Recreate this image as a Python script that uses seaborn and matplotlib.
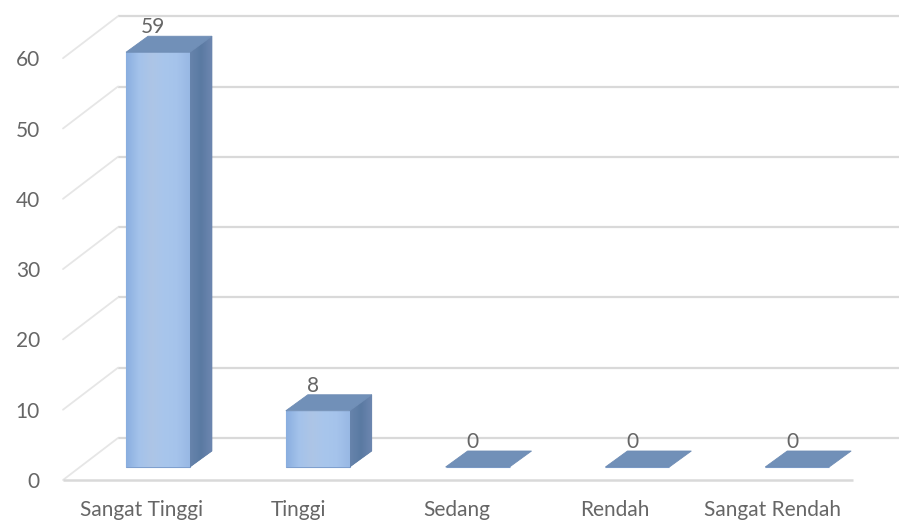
import numpy as np
import pandas as pd
import matplotlib
matplotlib.use("Agg")
import matplotlib.pyplot as plt
import seaborn as sns
from matplotlib.patches import Polygon
from matplotlib.colors import LinearSegmentedColormap

# Data
categories = ["Sangat Tinggi", "Tinggi", "Sedang", "Rendah", "Sangat Rendah"]
counts = [59, 8, 0, 0, 0]
y_ticks = [0, 10, 20, 30, 40, 50, 60]

sns.set_theme(style="white")
plt.rcParams["font.family"] = ["Lato", "DejaVu Sans"]

W, H = 899, 521
fig = plt.figure(figsize=(W / 100, H / 100), dpi=100)
ax = fig.add_axes([0, 0, 1, 1])

# scale: pixels per category step and per value unit
PX_X, PX_Y = 159.8, 7.03
X0_PX, BASE_PX = 158, 467  # first category centre, baseline (from top)


def dx(px):
    return px / PX_X


def dy(px):
    return px / PX_Y


# depth offsets (bar plane -> back wall, bar plane -> front edge, bar thickness)
BACK = (dx(38), dy(29))
FRONT = (dx(-17), dy(-13))
DEPTH = (dx(22), dy(16))
LEFT = dx(80 - X0_PX)
RIGHT = dx(870 - X0_PX)
XMAX = dx(W - X0_PX)

grid_c = "#d9d9d9"
text_c = "#666666"
FS = 15

# walls: back gridlines and left-wall diagonals
for v in y_ticks:
    ax.plot([LEFT + BACK[0], XMAX + 0.5], [v + BACK[1]] * 2, color=grid_c,
            lw=1.6, zorder=1, solid_capstyle="butt")
    ax.plot([LEFT + FRONT[0], LEFT + BACK[0]], [v + FRONT[1], v + BACK[1]],
            color="#e6e6e6", lw=1.3, zorder=1)
# front floor edge
ax.plot([LEFT + FRONT[0], RIGHT + FRONT[0]], [FRONT[1]] * 2, color=grid_c,
        lw=1.8, zorder=1, solid_capstyle="butt")

# front faces of the bars
df = pd.DataFrame({"kategori": categories, "jumlah": counts})
sns.barplot(data=df, x="kategori", y="jumlah", order=categories, width=0.40,
            color="#a6c4ea", saturation=1, edgecolor="#7fa0cf", linewidth=0.8,
            ax=ax, zorder=3)
bars = list(ax.patches)

face_cmap = LinearSegmentedColormap.from_list(
    "face", ["#8aaedf", "#a3c2eb", "#adc5e6", "#a8c6ec", "#a5c3eb", "#98b8e4"])
side_cmap = LinearSegmentedColormap.from_list(
    "side", ["#6784ac", "#5a7aa2", "#6d86b0"])
grad = np.linspace(0, 1, 256).reshape(1, -1)

for bar, v in zip(bars, counts):
    x0 = bar.get_x()
    x1 = x0 + bar.get_width()
    h = bar.get_height()
    if h > 0:
        img = ax.imshow(grad, extent=[x0, x1, 0, h], aspect="auto",
                        cmap=face_cmap, zorder=3.05, interpolation="bicubic")
        img.set_clip_path(bar)
        # right side face
        side = Polygon([(x1, 0), (x1, h), (x1 + DEPTH[0], h + DEPTH[1]),
                        (x1 + DEPTH[0], DEPTH[1])], closed=True,
                       facecolor="#5f7ea6", edgecolor="#5f7ea6", lw=0.5, zorder=3)
        ax.add_patch(side)
        simg = ax.imshow(grad, extent=[x1, x1 + DEPTH[0], 0, h + DEPTH[1]],
                         aspect="auto", cmap=side_cmap, zorder=3.02,
                         interpolation="bicubic")
        simg.set_clip_path(side)
    # top face
    top = Polygon([(x0, h), (x1, h), (x1 + DEPTH[0], h + DEPTH[1]),
                   (x0 + DEPTH[0], h + DEPTH[1])], closed=True,
                  facecolor="#7190b8", edgecolor="#6f8db5", lw=0.6, zorder=3.1)
    ax.add_patch(top)
    # value label
    ax.text(bar.get_x() + bar.get_width() / 2 - dx(5), h + dy(25), f"{v}",
            ha="center", va="center", fontsize=FS, color=text_c, zorder=4)

# value axis labels on the front plane
for v in y_ticks:
    ax.text(dx(40 - X0_PX), v + FRONT[1] - dy(2), str(v), ha="right",
            va="center", fontsize=FS, color=text_c)

# category labels on the front plane
for i, c in enumerate(categories):
    ax.text(i + dx(-17 - 2 * i), FRONT[1] - dy(30), c, ha="center",
            va="center", fontsize=FS, color=text_c)

ax.set_xlim(dx(0 - X0_PX), dx(W - X0_PX))
ax.set_ylim(-dy(H - BASE_PX), dy(BASE_PX))
ax.set_axis_off()

fig.savefig("out.png", dpi=100, facecolor="white")
